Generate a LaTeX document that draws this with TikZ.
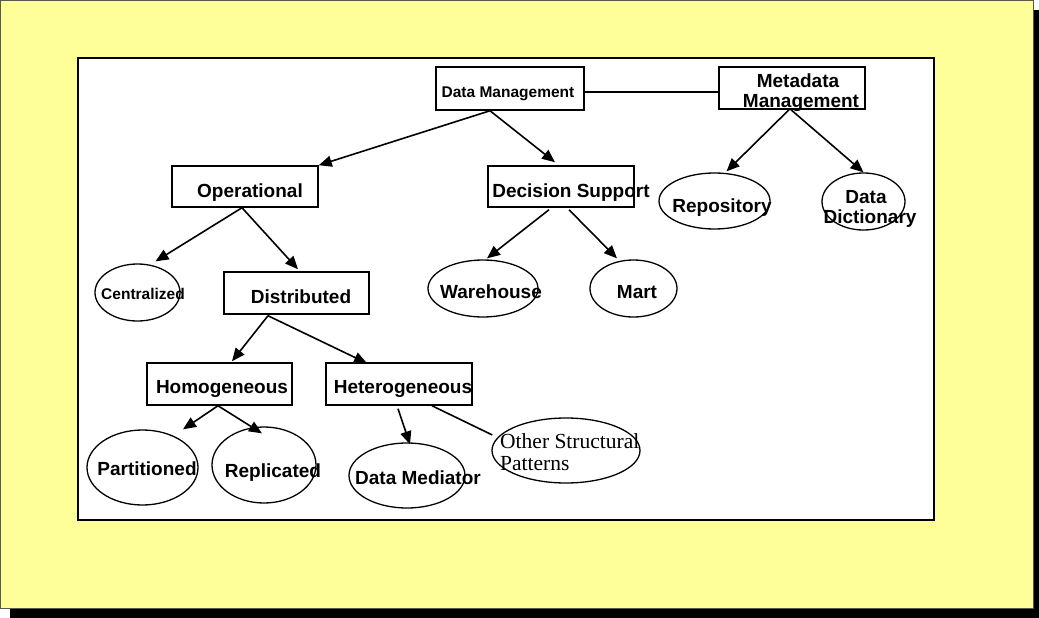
\documentclass[tikz,border=0pt]{standalone}
\usepackage{fontspec}
\setmainfont{Liberation Sans}
\newfontfamily\serifface{Liberation Serif}
\usetikzlibrary{arrows.meta,calc,shapes.geometric}
\definecolor{slideyellow}{HTML}{FFFF99}
\definecolor{rimgray}{HTML}{5A5A4A}
\tikzset{
  box/.style={draw=black,line width=1.5pt,rectangle,inner sep=0pt},
  oval/.style={draw=black,line width=1.3pt,ellipse,inner sep=0pt},
  lbl/.style={inner sep=0pt,anchor=base,font=\fontsize{19}{20}\selectfont\bfseries},
  smalllbl/.style={inner sep=0pt,anchor=base,font=\fontsize{15.5}{16}\selectfont\bfseries},
  link/.style={line width=1.6pt,-{Triangle[length=13pt,width=11pt]}},
  plainlink/.style={line width=1.6pt}
}
\begin{document}
\begin{tikzpicture}[x=1pt,y=-1pt]
\useasboundingbox (0,0) rectangle (1039,618);
% slide background with drop shadow
\fill[black] (10,10) rectangle (1039,618);
\fill[slideyellow,draw=rimgray,line width=1pt] (0.5,0.5) rectangle (1033,608);
\fill[white,draw=black,line width=1.6pt] (78,58) rectangle (934,520);

% rectangles
\node[box,minimum width=148pt,minimum height=43pt] (dm)   at (510,88.5) {};
\node[box,minimum width=146pt,minimum height=42pt] (mm)   at (792,88) {};
\node[box,minimum width=146pt,minimum height=41pt] (op)   at (245,186.5) {};
\node[box,minimum width=146pt,minimum height=41pt] (ds)   at (561,186.5) {};
\node[box,minimum width=145pt,minimum height=42pt] (dist) at (296.5,293) {};
\node[box,minimum width=145pt,minimum height=42pt] (hom)  at (219.5,384) {};
\node[box,minimum width=146pt,minimum height=42pt] (het)  at (399,384) {};

% ellipses
\node[oval,minimum width=111pt,minimum height=56pt] (rep)  at (714.5,201) {};
\node[oval,minimum width=83pt,minimum height=57pt]  (dd)   at (863.5,201.5) {};
\node[oval,minimum width=85pt,minimum height=57pt]  (cen)  at (137.5,292.5) {};
\node[oval,minimum width=110pt,minimum height=57pt] (wh)   at (483,288.5) {};
\node[oval,minimum width=87pt,minimum height=57pt]  (mart) at (633.5,288.5) {};
\node[oval,minimum width=111pt,minimum height=75pt] (part) at (142.5,467.5) {};
\node[oval,minimum width=104pt,minimum height=76pt] (repl) at (264,465) {};
\node[oval,minimum width=116pt,minimum height=65pt] (med)  at (407,475.5) {};
\node[oval,minimum width=148pt,minimum height=65pt] (osp)  at (566,450.5) {};

% labels
\node[smalllbl] (dmT)   at (508,97)  {Data Management};
\node[lbl]      (mmT1)  at (798,88)  {Metadata};
\node[lbl]      (mmT2)  at (801,107) {Management};
\node[lbl]      (opT)   at (250,197) {Operational};
\node[lbl]      (dsT)   at (571,197) {Decision Support};
\node[lbl]      (repT)  at (722,212) {Repository};
\node[lbl]      (ddT1)  at (866,203) {Data};
\node[lbl]      (ddT2)  at (870,223) {Dictionary};
\node[smalllbl] (cenT)  at (143,299) {Centralized};
\node[lbl]      (distT) at (301,303) {Distributed};
\node[lbl]      (homT)  at (222,393) {Homogeneous};
\node[lbl]      (hetT)  at (403,393) {Heterogeneous};
\node[lbl]      (whT)   at (491,298) {Warehouse};
\node[lbl]      (martT) at (637,298) {Mart};
\node[lbl]      (partT) at (147,475) {Partitioned};
\node[lbl]      (replT) at (273,477) {Replicated};
\node[lbl]      (medT)  at (418,484) {Data Mediator};
\node[inner sep=0pt,anchor=base west,font=\serifface\fontsize{21.5}{22}\selectfont] (ospT1) at (500,448) {Other Structural};
\node[inner sep=0pt,anchor=base west,font=\serifface\fontsize{21.5}{22}\selectfont] (ospT2) at (500,470) {Patterns};

% connectors
\draw[plainlink] ($(dm.east)+(0,3.5)$) -- ($(mm.west)+(0,4)$);
\draw[link] ($(dm.south)+(-20,0)$) -- (op.north east);
\draw[link] ($(dm.south)+(-20,0)$) -- ($(ds.north)+(-6,-3)$);
\draw[link] ($(mm.south)+(-3,0)$) -- ($(rep.north)+(12,-1)$);
\draw[link] ($(mm.south)+(-1,0)$) -- ($(dd.north)+(0,0)$);
\draw[link] ($(op.south)+(-3,0)$) -- ($(cen.north)+(18,-2)$);
\draw[link] ($(op.south)+(-3,0)$) -- ($(dist.north)+(1.5,-2)$);
\draw[link] ($(ds.south)+(-12,2)$) -- ($(wh.north)+(4,-1)$);
\draw[link] ($(ds.south)+(8,2)$) -- ($(mart.north)+(-16.5,-1)$);
\draw[link] ($(dist.south)+(-28.5,1)$) -- ($(hom.north)+(12.5,-1)$);
\draw[link] ($(dist.south)+(-28.5,1)$) -- ($(het.north)+(-32,1)$);
\draw[link] ($(hom.south)+(-1.5,0)$) -- ($(part.north)+(40.5,0)$);
\draw[link] ($(hom.south)+(-1.5,0)$) -- ($(repl.north)+(-2,7)$);
\draw[link] ($(het.south)+(-1,3)$) -- ($(med.north)+(3,2)$);
\draw[plainlink] ($(het.south)+(33,0)$) -- ($(osp.west)+(1,-15.5)$);
\end{tikzpicture}
\end{document}
